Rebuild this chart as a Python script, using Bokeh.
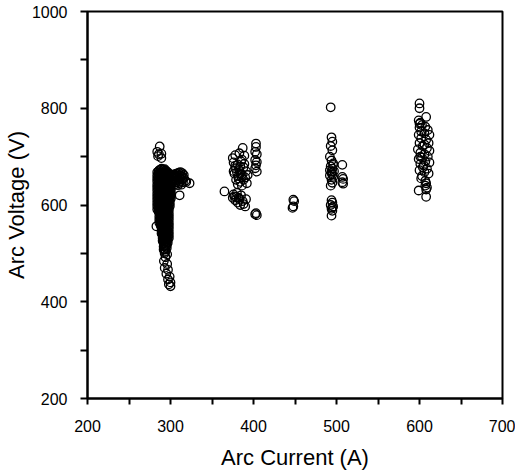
from bokeh.plotting import figure
from bokeh.models import FixedTicker, Range1d
from bokeh.embed import file_html
from bokeh.resources import INLINE

# ---- data: (arc current A, arc voltage V) ----
pts_290_top = [(287, 721), (284, 710), (289, 706), (285, 701), (289, 697), (286, 705)]

# dense cluster near 290 A: current -> list of voltages
blob_290 = {
    283: [556],
    284: [668, 661, 655, 649, 642, 636, 630, 623, 617, 611, 604, 598, 591],
    285.5: [670, 664, 658, 651, 645, 639, 632, 626, 619, 613, 607, 600, 594, 587],
    286.5: [672, 666, 659, 653, 647, 640, 634, 627, 621, 615, 608, 602, 596, 589,
            583, 576, 570, 564],
    288: [673, 667, 660, 654, 648, 641, 635, 628, 622, 616, 609, 603, 597, 590, 584,
          577, 571, 565, 558],
    289.2: [675, 668, 661, 655, 648, 642, 636, 629, 623, 617, 610, 604, 598, 591, 585,
            579, 572, 566, 560, 553, 547, 541],
    290.5: [672, 666, 659, 653, 647, 640, 634, 627, 621, 615, 608, 602, 596, 589, 583,
            577, 570, 564, 558, 551, 545, 539, 532, 526],
    291.7: [673, 667, 660, 654, 648, 641, 635, 628, 622, 616, 609, 603, 597, 590, 584,
            578, 571, 565, 559, 552, 546, 540, 533, 527, 521, 514, 508],
    293: [674, 668, 661, 655, 649, 642, 636, 630, 623, 617, 611, 604, 598, 592, 585,
          579, 573, 566, 560, 554, 547, 541, 535, 528, 522, 516, 509, 503],
    294.2: [671, 664, 658, 652, 645, 639, 632, 626, 620, 613, 607, 601, 594, 588, 582,
            575, 569, 563, 556, 550, 544, 537, 531, 525, 518, 512, 505],
    295.5: [669, 663, 656, 650, 644, 637, 631, 625, 618, 612, 606, 599, 593, 587, 580,
            574, 568, 561, 555, 549, 542, 536, 530, 523, 517, 511],
    296.7: [668, 661, 655, 648, 642, 636, 629, 623, 617, 610, 604, 598, 591, 585, 579,
            572, 566, 560, 553, 547, 541, 534, 528, 522],
    298: [665, 658, 652, 646, 639, 633, 627, 620, 614, 608, 601, 595, 589, 582, 576,
          570, 563, 557, 551, 544, 538, 532],
    299.2: [662, 655, 649, 642, 636, 630, 623, 617, 611, 604, 598],
    300.5: [658, 652, 645, 639, 633, 626, 620, 614],
}

pts_290_tail = [(294, 492), (292, 484), (296, 478), (293, 470), (297, 466), (295, 458),
                (299, 452), (297, 446), (300, 440), (298, 436), (300, 432), (296, 498),
                (293, 500)]

pts_310 = [(306, 660), (308, 664), (310, 667), (312, 668), (314, 666), (316, 662),
           (308, 656), (310, 652), (312, 656), (314, 652), (316, 655), (318, 650),
           (306, 650), (304, 655), (302, 660), (302, 646), (305, 642), (310, 645),
           (313, 642), (307, 665), (309, 660), (311, 662), (313, 660), (315, 658),
           (307, 647), (311, 648), (315, 647), (304, 663), (303, 651), (309, 641),
           (323, 645), (319, 648), (311, 620)]

pts_390 = [(365, 628),
           (387, 718), (378, 703), (383, 707), (389, 702), (375, 697), (386, 694),
           (376, 688), (381, 684), (385, 690), (378, 676), (383, 672), (388, 678),
           (391, 670), (377, 665), (382, 660), (386, 663), (390, 657), (379, 652),
           (384, 648), (388, 652), (392, 645), (386, 640), (381, 643), (376, 670),
           (389, 685), (393, 662), (380, 668), (384, 666), (382, 655), (386, 657),
           (378, 681), (384, 680),
           (376, 622), (379, 617), (383, 612), (387, 608), (378, 610), (381, 605),
           (388, 602), (384, 600), (390, 597), (375, 615), (380, 625), (385, 620),
           (391, 612), (377, 618), (382, 615),
           (403, 727), (403, 720), (402, 710), (404, 705), (402, 693), (404, 689),
           (403, 682), (402, 676), (404, 669),
           (403, 583), (404, 579), (402, 581)]

pts_450 = [(448, 611), (449, 608), (448, 597), (447, 594)]

pts_495 = [(493, 802), (494, 740), (495, 731), (493, 722), (495, 713), (492, 700),
           (494, 692), (496, 686), (493, 680), (495, 675), (497, 670), (494, 666),
           (492, 661), (496, 658), (494, 652), (495, 646), (493, 640), (496, 683),
           (492, 672), (494, 669), (495, 663),
           (507, 683), (507, 658), (508, 654), (507, 647), (508, 644),
           (494, 610), (495, 605), (493, 600), (496, 597), (494, 592), (495, 588),
           (494, 578), (495, 595)]

pts_605 = [(600, 810), (600, 800), (608, 782), (599, 775), (601, 770), (603, 765),
           (600, 760), (607, 762), (610, 755), (606, 748), (612, 745), (599, 745),
           (602, 738), (608, 735), (611, 728), (600, 728), (604, 722), (609, 718),
           (612, 712), (598, 715), (601, 708), (606, 705), (603, 698), (610, 700),
           (599, 695), (607, 690), (612, 688), (601, 685), (604, 678), (609, 675),
           (600, 672), (606, 668), (611, 665), (603, 660), (602, 655), (607, 650),
           (608, 645), (607, 640), (609, 636), (608, 632), (599, 630), (608, 617),
           (600, 768), (602, 752), (606, 725), (601, 700), (605, 682)]

x_major = [200, 300, 400, 500, 600, 700]
x_minor = [250, 350, 450, 550, 650]
y_major = [200, 400, 600, 800, 1000]
y_minor = [300, 500, 700, 900]

pts_blob = [(a, v) for a, vs in blob_290.items() for v in vs]
all_pts = (pts_290_top + pts_blob + pts_290_tail + pts_310 + pts_390
           + pts_450 + pts_495 + pts_605)
current = [a for a, v in all_pts]
voltage = [v for a, v in all_pts]

FONT = "Liberation Sans"

p = figure(frame_width=415, frame_height=387,
           x_range=Range1d(200, 700), y_range=Range1d(200, 1000),
           output_backend="svg", toolbar_location=None,
           min_border_left=80, min_border_top=11, min_border_right=13,
           min_border_bottom=50)

p.scatter(current, voltage, marker="circle", size=8.5,
          fill_color=None, line_color="black", line_width=1.3)

p.xgrid.visible = False
p.ygrid.visible = False
p.outline_line_color = "black"
p.outline_line_width = 2
p.background_fill_color = "white"
p.border_fill_color = "white"

p.xaxis.ticker = FixedTicker(ticks=x_major, minor_ticks=x_minor)
p.yaxis.ticker = FixedTicker(ticks=y_major, minor_ticks=y_minor)

for ax, tout, stand in ((p.xaxis, 6, 15), (p.yaxis, 7, 13)):
    ax.axis_line_width = 2
    ax.axis_line_color = "black"
    ax.major_tick_line_width = 2
    ax.minor_tick_line_width = 2
    ax.major_tick_line_color = "black"
    ax.minor_tick_line_color = "black"
    ax.major_tick_in = 0
    ax.minor_tick_in = 0
    ax.major_tick_out = tout
    ax.minor_tick_out = tout
    ax.major_label_standoff = stand
    ax.major_label_text_font = FONT
    ax.major_label_text_font_size = "16px"
    ax.major_label_text_color = "black"
    ax.axis_label_text_font = FONT
    ax.axis_label_text_font_size = "22px"
    ax.axis_label_text_font_style = "normal"
    ax.axis_label_text_color = "black"

p.xaxis.axis_label = "Arc Current (A)"
p.yaxis.axis_label = "Arc Voltage (V)"
p.xaxis.axis_label_standoff = 10
p.yaxis.axis_label_standoff = 0

open("out.html", "w").write(file_html(p, INLINE))
